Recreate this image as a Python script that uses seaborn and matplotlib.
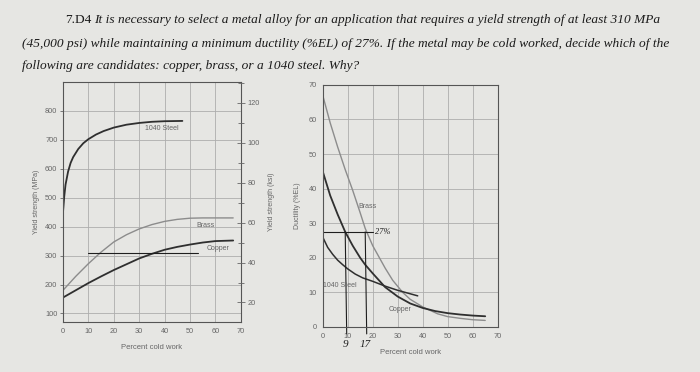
import matplotlib
matplotlib.use("Agg")
import matplotlib.pyplot as plt
import numpy as np
import seaborn as sns
from matplotlib.ticker import MultipleLocator

sns.set_theme(style="white")
plt.rcParams["font.family"] = ["Liberation Sans", "DejaVu Sans"]

# yield strength (MPa) vs percent cold work
steel_ys_cw = [0, 0.5, 1, 2, 3, 4, 6, 8, 10, 13, 16, 20, 25, 30, 35, 40, 47]
steel_ys = [450, 505, 545, 590, 620, 640, 668, 688, 702, 718, 730, 742, 752, 758, 762, 764, 765]
brass_ys_cw = [0, 5, 10, 15, 20, 25, 30, 35, 40, 45, 50, 55, 60, 67]
brass_ys = [180, 228, 272, 312, 347, 372, 392, 407, 418, 425, 429, 430, 430, 430]
copper_ys_cw = [0, 5, 10, 15, 20, 25, 30, 35, 40, 45, 50, 55, 60, 67]
copper_ys = [155, 180, 205, 228, 250, 270, 290, 306, 320, 330, 338, 345, 350, 352]

# ductility (%EL) vs percent cold work
brass_el_cw = [0, 3, 6, 9, 12, 15, 17, 20, 25, 28, 32, 35, 40, 46, 50, 55, 60, 65]
brass_el = [67, 59, 52, 45.5, 39.5, 33, 28.5, 23.5, 17, 13.5, 10, 8, 5.8, 3.8, 3.0, 2.5, 2.1, 1.9]
copper_el_cw = [0, 3, 6, 9, 12, 15, 17, 20, 25, 30, 35, 40, 45, 50, 55, 60, 65]
copper_el = [45, 38, 32.5, 27.5, 23.5, 20, 18, 15.5, 11.5, 8.8, 6.8, 5.5, 4.6, 4.0, 3.6, 3.3, 3.1]
steel_el_cw = [0, 2, 4, 6, 8, 10, 13, 16, 20, 25, 30, 35, 38]
steel_el = [26, 23, 21, 19.3, 18, 16.8, 15.3, 14.2, 13.2, 11.8, 10.6, 9.6, 9]

# handwritten marks on the page
req_ys = 310
req_ys_span = [10, 53]
req_el = 27.5
req_el_span = [0, 20]
cw_marks = [9, 17]

problem_lines = [
    "It is necessary to select a metal alloy for an application that requires a yield strength of at least 310 MPa",
    "(45,000 psi) while maintaining a minimum ductility (%EL) of 27%. If the metal may be cold worked, decide which of the",
    "following are candidates: copper, brass, or a 1040 steel. Why?",
]

paper = "#e6e6e3"
ink = "#666666"
dark = "#2f2f2f"
grey_curve = "#8c8c8c"
pen = "#1e1e1e"
serif = "Liberation Serif"

fig = plt.figure(figsize=(7, 3.72), dpi=100, facecolor=paper)

fig.text(0.093, 0.945, "7.D4", fontsize=9.6, family=serif, color="#1a1a1a", va="center")
fig.text(0.135, 0.945, problem_lines[0], fontsize=9.6, family=serif, style="italic", color="#1a1a1a", va="center")
fig.text(0.031, 0.882, problem_lines[1], fontsize=9.6, family=serif, style="italic", color="#1a1a1a", va="center")
fig.text(0.031, 0.822, problem_lines[2], fontsize=9.6, family=serif, style="italic", color="#1a1a1a", va="center")


def style_axes(ax):
    ax.set_facecolor(paper)
    ax.grid(True, color="#adadad", linewidth=0.6)
    for s in ax.spines.values():
        s.set_color("#555555")
        s.set_linewidth(0.8)
    ax.tick_params(labelsize=5.3, colors=ink, length=2, width=0.6, pad=2)


# --- left: yield strength ---
ax1 = fig.add_axes([0.09, 0.134, 0.254, 0.646])
sns.lineplot(x=steel_ys_cw, y=steel_ys, ax=ax1, color=dark, linewidth=1.3)
sns.lineplot(x=brass_ys_cw, y=brass_ys, ax=ax1, color=grey_curve, linewidth=1.0)
sns.lineplot(x=copper_ys_cw, y=copper_ys, ax=ax1, color=dark, linewidth=1.3)
ax1.plot(req_ys_span, [req_ys, req_ys], color=pen, linewidth=0.8)
ax1.set_xlim(0, 70)
ax1.set_ylim(70, 900)
ax1.xaxis.set_major_locator(MultipleLocator(10))
ax1.set_yticks(range(100, 900, 100))
style_axes(ax1)
ax1.set_xlabel("Percent cold work", fontsize=5.5, color=ink, labelpad=7)
ax1.set_ylabel("Yield strength (MPa)", fontsize=5, color=ink, labelpad=4)
ax1.text(39, 733, "1040 Steel", fontsize=5, color=ink, ha="center")
ax1.text(56, 400, "Brass", fontsize=5, color=ink, ha="center")
ax1.text(61, 318, "Copper", fontsize=5, color=ink, ha="center")

ax1r = ax1.twinx()
ax1r.set_ylim(70 / 6.895, 900 / 6.895)
ax1r.set_yticks(range(20, 130, 20))
ax1r.yaxis.set_minor_locator(MultipleLocator(10))
ax1r.tick_params(axis="y", which="both", direction="inout", length=6, width=0.6,
                 labelsize=5.3, colors=ink, pad=2)
ax1r.tick_params(axis="y", which="minor", length=5)
ax1r.grid(False)
for s in ax1r.spines.values():
    s.set_visible(False)
ax1r.set_ylabel("Yield strength (ksi)", fontsize=5, color=ink, labelpad=6)

# --- right: ductility ---
ax2 = fig.add_axes([0.461, 0.121, 0.25, 0.651])
sns.lineplot(x=brass_el_cw, y=brass_el, ax=ax2, color=grey_curve, linewidth=1.0)
sns.lineplot(x=copper_el_cw, y=copper_el, ax=ax2, color=dark, linewidth=1.3)
sns.lineplot(x=steel_el_cw, y=steel_el, ax=ax2, color=dark, linewidth=1.1)
ax2.plot(req_el_span, [req_el, req_el], color=pen, linewidth=0.8)
for cw in cw_marks:
    ax2.plot([cw, cw + 0.6], [req_el, -2], color=pen, linewidth=0.8, clip_on=False)
    ax2.text(cw, -5, str(cw), fontsize=8, family=serif, style="italic",
             color=pen, ha="center", va="center")
ax2.text(21, req_el, "27%", fontsize=6, family=serif, style="italic",
         color=pen, va="center")
ax2.set_xlim(0, 70)
ax2.set_ylim(0, 70)
ax2.xaxis.set_major_locator(MultipleLocator(10))
ax2.yaxis.set_major_locator(MultipleLocator(10))
style_axes(ax2)
ax2.set_xlabel("Percent cold work", fontsize=5.5, color=ink, labelpad=7)
ax2.set_ylabel("Ductility (%EL)", fontsize=5, color=ink, labelpad=6)
ax2.text(18, 34.5, "Brass", fontsize=5, color=ink, ha="center")
ax2.text(7, 11.5, "1040 Steel", fontsize=5, color=ink, ha="center")
ax2.text(31, 4.5, "Copper", fontsize=5, color=ink, ha="center")

fig.savefig("out.png", dpi=100, facecolor=paper)
